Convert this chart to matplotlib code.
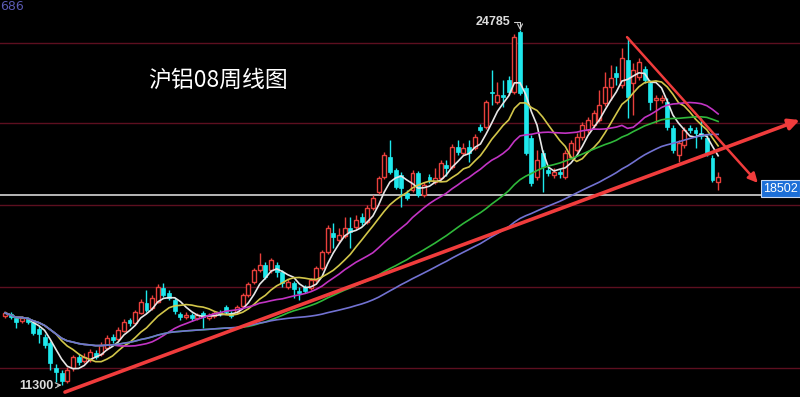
import matplotlib
matplotlib.use("Agg")
import matplotlib.pyplot as plt
import numpy as np
import pandas as pd

# weekly OHLC
opens = [13920, 14000, 13850, 13730, 13810, 13690, 13430, 13120, 12900, 11950,
         11760, 11450, 11950, 12360, 12210, 12250, 12520, 12480, 12710, 13120,
         13050, 13350, 13770, 13660, 14040, 14420, 14230, 14450, 14990, 14800,
         14530, 14000, 13880, 13960, 13850, 14040, 13850, 13920, 14070, 14260,
         14040, 14070, 14300, 14720, 15210, 15670, 15860, 15670, 15860, 15590,
         15020, 15180, 14870, 15020, 14990, 15290, 15750, 16350, 17080, 16810,
         16960, 17270, 17300, 17680, 17490, 18030, 18630, 19200, 19960, 19470,
         19280, 18600, 18710, 19360, 18520, 19200, 19010, 19170, 19660, 19580,
         20340, 20120, 20340, 20310, 21100, 21100, 22430, 22050, 22320, 22890,
         22430, 24700, 22590, 20690, 19200, 20120, 19470, 19280, 19390, 19200,
         19960, 20230, 20720, 20990, 21180, 21370, 22020, 22620, 23160, 22700,
         23650, 22780, 23000, 23310, 22780, 22130, 22130, 22050, 21070, 20040,
         20420, 21070, 20990, 20880, 20690, 19930, 19010]
closes = [14040, 13880, 13690, 13850, 13690, 13280, 13240, 12820, 12140, 11790,
          11450, 11870, 12360, 12170, 12360, 12550, 12360, 12820, 13090, 13010,
          13390, 13690, 13660, 14070, 14450, 14150, 14610, 15020, 14720, 14610,
          14110, 13880, 13960, 13850, 13960, 13880, 13960, 14040, 14000, 14070,
          13920, 14260, 14720, 15140, 15670, 15860, 15400, 16050, 15590, 15180,
          15210, 14950, 14800, 14870, 15290, 15750, 16350, 17270, 16920, 17000,
          17270, 17110, 17570, 17490, 18030, 18410, 19170, 20040, 19390, 18820,
          18790, 18410, 19360, 18520, 18900, 19090, 19170, 19740, 19550, 20340,
          20150, 20310, 20120, 20720, 20990, 22050, 22400, 22320, 22240, 22430,
          24520, 22400, 20120, 18980, 19850, 19580, 19360, 19390, 19320, 20120,
          20500, 20720, 21180, 21370, 21640, 21940, 22620, 22970, 23000, 23730,
          22240, 23270, 23570, 22890, 22050, 22210, 22210, 21100, 20230, 20500,
          20990, 20990, 20880, 20760, 20120, 19090, 19200]
highs = [14110, 14070, 13920, 13920, 13880, 13770, 13540, 13240, 12970, 12100,
         11870, 11980, 12440, 12480, 12520, 12670, 12630, 12930, 13200, 13240,
         13500, 13810, 13850, 14150, 14570, 14910, 14720, 15140, 15180, 14910,
         14610, 14070, 14070, 14040, 14040, 14110, 14040, 14110, 14150, 14340,
         14110, 14340, 14800, 15210, 15750, 16320, 15970, 16130, 15970, 15670,
         15330, 15250, 15020, 15100, 15370, 15820, 16430, 17380, 17460, 17270,
         17680, 17680, 17760, 17840, 18140, 18520, 19240, 20150, 20610, 19550,
         19390, 18710, 19470, 19430, 19010, 19320, 19550, 19850, 19850, 20460,
         20610, 20500, 20610, 20840, 21220, 22130, 23270, 22810, 22890, 23040,
         24640, 24785, 22700, 20800, 20230, 20230, 19580, 19550, 19510, 20230,
         20610, 20880, 21290, 21480, 21750, 22510, 23190, 23460, 23420, 24110,
         24520, 23540, 23730, 23420, 22890, 22320, 22320, 22210, 21180, 20610,
         21100, 21180, 21100, 21450, 20800, 20040, 19390]
lows = [13850, 13810, 13470, 13660, 13620, 13200, 12900, 12710, 11870, 11410,
        11300, 11380, 11830, 12060, 12140, 12170, 12290, 12400, 12630, 12900,
        12970, 13310, 13540, 13580, 14000, 14070, 14150, 14420, 14640, 14530,
        14000, 13770, 13810, 13730, 13770, 13470, 13770, 13850, 13920, 14000,
        13850, 14000, 14230, 14640, 15140, 15590, 15330, 15560, 15400, 15020,
        14950, 14610, 14530, 14800, 14910, 15210, 15670, 16280, 16510, 16700,
        16890, 16510, 17230, 17380, 17420, 17950, 18560, 19130, 19320, 18750,
        18060, 18330, 18630, 18440, 18440, 18980, 18940, 19090, 19240, 19510,
        20040, 20040, 19770, 20230, 20910, 21030, 21940, 21980, 21860, 22320,
        22360, 22320, 20040, 18860, 19090, 18630, 19240, 19170, 19170, 19130,
        19890, 20150, 20610, 20880, 21070, 21290, 21900, 22130, 22700, 22590,
        21450, 21560, 22890, 22780, 21750, 21260, 22020, 20990, 20120, 19770,
        20310, 20880, 20310, 20650, 20000, 19010, 18710]

ma_periods = [5, 10, 20, 40, 60]
ma_colors = ["#e6e6e6", "#d2c64a", "#c234c4", "#2fb83a", "#7272d2"]

grid_levels = [11950, 15040, 18140, 21260, 24310]
last_price = 18502
peak_text, peak_idx, peak_val = "24785", 91, 24785
low_text, low_idx, low_val = "11300", 10, 11300

# analyst's hand-drawn trend lines (index, price)
trend_up = [(10.6, 11030), (140.4, 21370)]
trend_down = [(109.9, 24520), (133.0, 18980)]

title = "沪铝08周线图"

RED = "#e8403c"
CYAN = "#1ee8ec"

fig = plt.figure(figsize=(8, 3.97), dpi=100)
fig.patch.set_facecolor("black")
ax = fig.add_axes([0, 0, 1, 1])
ax.set_facecolor("black")
ax.axis("off")
ax.set_xlim(-0.88, 140.46)
ax.set_ylim(10844, 25930)

for g in grid_levels:
    ax.axhline(g, color="#5c0f1f", lw=1, zorder=0)
ax.axhline(last_price, color="#d6d6d6", lw=1.2, zorder=1)

o = np.array(opens)
c = np.array(closes)
h = np.array(highs)
l = np.array(lows)
idx = np.arange(len(c))
up = c >= o
bot = np.minimum(o, c)
hgt = np.maximum(np.abs(c - o), 45)

ax.vlines(idx[up], l[up], h[up], color=RED, lw=1, zorder=2)
ax.vlines(idx[~up], l[~up], h[~up], color=CYAN, lw=1, zorder=2)
ax.bar(idx[up], hgt[up], bottom=bot[up], width=0.7, facecolor="black",
       edgecolor=RED, lw=1, zorder=3)
ax.bar(idx[~up], hgt[~up], bottom=bot[~up], width=0.7, facecolor=CYAN,
       edgecolor=CYAN, lw=0.5, zorder=3)

s = pd.Series(c)
for p, col in zip(ma_periods, ma_colors):
    ax.plot(idx, s.rolling(p, min_periods=1).mean(), color=col, lw=1.2, zorder=4)

ax.annotate("", xy=trend_up[1], xytext=trend_up[0],
            arrowprops=dict(arrowstyle="-|>", color="#f03c3c", lw=2.6,
                            mutation_scale=16, shrinkA=0, shrinkB=0), zorder=5)
ax.annotate("", xy=trend_down[1], xytext=trend_down[0],
            arrowprops=dict(arrowstyle="-|>", color="#f03c3c", lw=1.8,
                            mutation_scale=14, shrinkA=0, shrinkB=0), zorder=5)

lab_font = dict(family="Liberation Sans", fontsize=9, fontweight="bold", color="#dcdcdc")
ax.annotate(peak_text, xy=(peak_idx, peak_val), xytext=(-7, 6), textcoords="offset points",
            ha="right", va="center", **lab_font,
            arrowprops=dict(arrowstyle="->", color="#cfcfcf", lw=0.8, shrinkA=1, shrinkB=0,
                            connectionstyle="angle,angleA=0,angleB=90,rad=0"))
ax.annotate(low_text, xy=(low_idx, low_val), xytext=(-6, -1), textcoords="offset points",
            ha="right", va="center", **lab_font,
            arrowprops=dict(arrowstyle="->", color="#cfcfcf", lw=0.8, shrinkA=1, shrinkB=0))

ax.annotate(str(last_price), xy=(140.1, last_price), xytext=(0, 5), textcoords="offset points",
            ha="right", va="center", family="Liberation Sans", fontsize=9, color="white",
            bbox=dict(boxstyle="square,pad=0.2", fc="#1c6fd8", ec="#c8d8f0", lw=0.8), zorder=6)

fig.text(148 / 800, 1 - 80 / 397, title, color="white", fontsize=16.5, va="center", ha="left",
         family=["Noto Sans CJK SC", "DejaVu Sans"])
fig.text(0.0, 1 - 6 / 397, "686", color="#5a5ab4", fontsize=9, va="center", ha="left")

fig.savefig("out.png", dpi=100, facecolor="black")
